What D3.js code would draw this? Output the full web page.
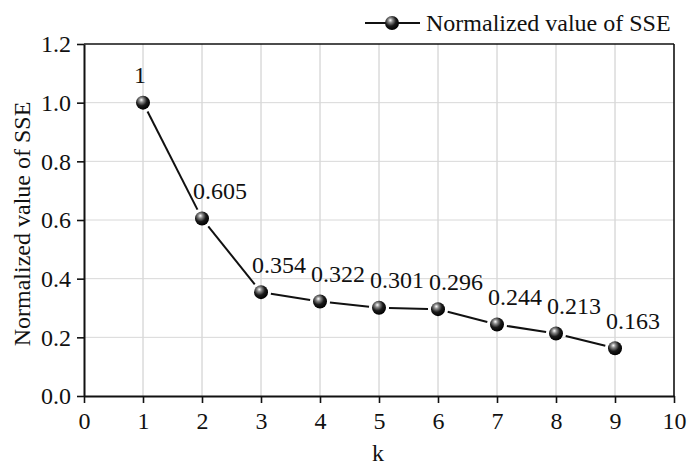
<!DOCTYPE html>
<html><head><meta charset="utf-8">
<script src="https://cdn.jsdelivr.net/npm/d3@7"></script>
<style>body{margin:0;background:#fff}svg{display:block}</style>
</head><body>
<svg id="c" width="687" height="468"></svg>
<script>
const kValues = [1,2,3,4,5,6,7,8,9];
const sseValues = [1, 0.605, 0.354, 0.322, 0.301, 0.296, 0.244, 0.213, 0.163];
const pointLabels = ["1","0.605","0.354","0.322","0.301","0.296","0.244","0.213","0.163"];
const xTicks = [0,1,2,3,4,5,6,7,8,9,10];
const yTicks = [0,0.2,0.4,0.6,0.8,1.0,1.2];
const seriesName = "Normalized value of SSE";
const FONT = "'Liberation Serif', 'Times New Roman', serif";

const svg = d3.select("#c");
const m = {l:84, r:674, t:44, b:396};
const x = d3.scaleLinear().domain([0,10]).range([m.l,m.r]);
const y = d3.scaleLinear().domain([0,1.2]).range([m.b,m.t]);

const defs = svg.append("defs");
const g = defs.append("radialGradient").attr("id","ball").attr("cx","40%").attr("cy","35%").attr("r","65%").attr("fx","38%").attr("fy","30%");
g.append("stop").attr("offset","0%").attr("stop-color","#ffffff");
g.append("stop").attr("offset","25%").attr("stop-color","#8a8a8a");
g.append("stop").attr("offset","60%").attr("stop-color","#1a1a1a");
g.append("stop").attr("offset","100%").attr("stop-color","#000");

// grid
svg.append("g").selectAll("line").data(xTicks.slice(1,-1)).join("line")
  .attr("x1",d=>x(d)).attr("x2",d=>x(d)).attr("y1",m.t).attr("y2",m.b)
  .attr("stroke","#c8c8c8").attr("stroke-width",1);
svg.append("g").selectAll("line").data(yTicks.slice(1,-1)).join("line")
  .attr("y1",d=>y(d)).attr("y2",d=>y(d)).attr("x1",m.l).attr("x2",m.r)
  .attr("stroke","#d8d8d8").attr("stroke-width",1);

// frame top/right
svg.append("line").attr("x1",m.l).attr("x2",m.r).attr("y1",m.t).attr("y2",m.t).attr("stroke","#111").attr("stroke-width",1.6);
svg.append("line").attr("x1",m.r).attr("x2",m.r).attr("y1",m.t).attr("y2",m.b).attr("stroke","#111").attr("stroke-width",1.6);

const xAxis = svg.append("g").attr("transform",`translate(0,${m.b})`)
  .call(d3.axisBottom(x).tickValues(xTicks).tickFormat(d3.format("d")).tickSize(7).tickSizeOuter(0));
const yAxis = svg.append("g").attr("transform",`translate(${m.l},0)`)
  .call(d3.axisLeft(y).tickValues(yTicks).tickFormat(d3.format(".1f")).tickSize(7).tickSizeOuter(0));
[xAxis,yAxis].forEach(a=>{
  a.attr("font-family",null).attr("font-size",null);
  a.select(".domain").attr("stroke","#111").attr("stroke-width",2);
  a.selectAll(".tick line").attr("stroke","#111").attr("stroke-width",1.6);
  a.selectAll("text").style("font-size","24px").style("font-family",FONT).attr("fill","#111");
});
xAxis.selectAll("text").attr("dy","0.71em").attr("y",16);
yAxis.selectAll("text").attr("x",-13).attr("dy","0.33em");

// line segments with gaps
const pts = kValues.map((k,i)=>[x(k),y(sseValues[i])]);
const gap = 10;
const segs = [];
for(let i=0;i<pts.length-1;i++){
  const [x1,y1]=pts[i],[x2,y2]=pts[i+1];
  const L=Math.hypot(x2-x1,y2-y1), ux=(x2-x1)/L, uy=(y2-y1)/L;
  segs.push([x1+ux*gap,y1+uy*gap,x2-ux*gap,y2-uy*gap]);
}
svg.append("g").selectAll("line").data(segs).join("line")
  .attr("x1",d=>d[0]).attr("y1",d=>d[1]).attr("x2",d=>d[2]).attr("y2",d=>d[3])
  .attr("stroke","#111").attr("stroke-width",2);

svg.append("g").selectAll("circle").data(pts).join("circle")
  .attr("cx",d=>d[0]).attr("cy",d=>d[1]).attr("r",7).attr("fill","url(#ball)");

svg.append("g").selectAll("text").data(pts).join("text")
  .attr("x",d=>d[0]-9).attr("y",d=>d[1]-19.5)
  .style("font-family",FONT).style("font-size","24px").attr("fill","#111").text((d,i)=>pointLabels[i]);

// axis titles
svg.append("text").attr("x",(m.l+m.r)/2-1).attr("y",461).attr("text-anchor","middle")
  .style("font-family",FONT).style("font-size","24px").attr("fill","#111").text("k");
svg.append("text").attr("transform",`translate(30,${(m.t+m.b)/2+4}) rotate(-90)`).attr("text-anchor","middle")
  .style("font-family",FONT).style("font-size","24px").attr("fill","#111").text(seriesName);

// legend
const lg = svg.append("g");
lg.append("line").attr("x1",365).attr("x2",420).attr("y1",23).attr("y2",23).attr("stroke","#111").attr("stroke-width",2);
lg.append("circle").attr("cx",392).attr("cy",23).attr("r",7).attr("fill","url(#ball)");
lg.append("text").attr("x",426).attr("y",31).style("font-family",FONT).style("font-size","24px").attr("fill","#111").text(seriesName);
</script>
</body></html>
